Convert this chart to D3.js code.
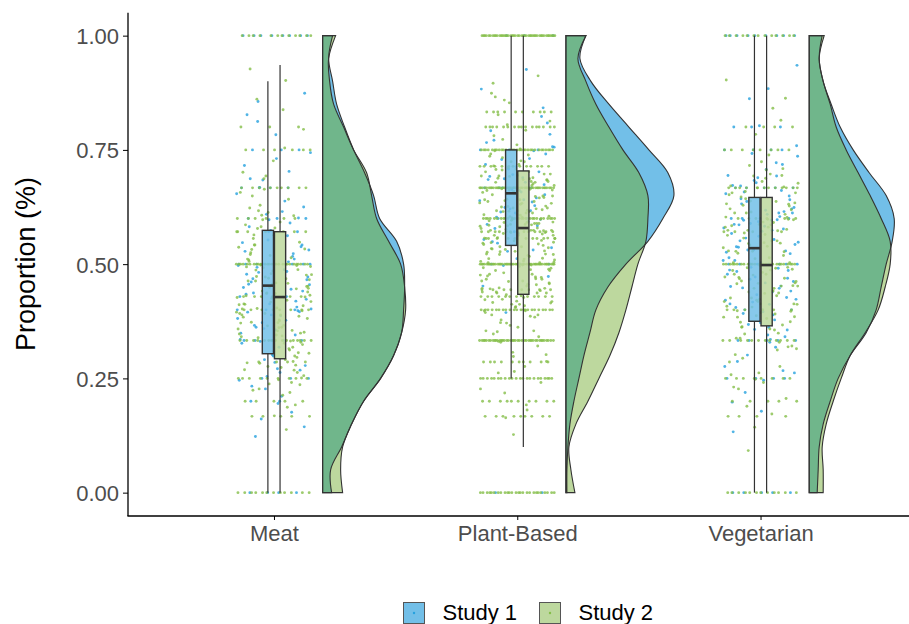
<!DOCTYPE html>
<html>
<head>
  <meta charset="utf-8">
  <title>raincloud</title>
  <script src="https://cdn.jsdelivr.net/npm/d3@7"></script>
  <style>
    body { margin: 0; background: #fff; overflow: hidden; }
    svg text { font-family: "Liberation Sans", Arial, sans-serif; }
    .tick text { fill: #4d4d4d; font-size: 22px; }
    .axis path, .axis line { stroke: #000; }
  </style>
</head>
<body>
<svg id="chart" width="909" height="624"></svg>
<script>
var categories = ["Meat", "Plant-Based", "Vegetarian"];
var studies = ["Study 1", "Study 2"];
var yTicks = [0, 0.25, 0.5, 0.75, 1];

// box stats per category: [lower whisker, q1, median, q3, upper whisker]
var boxStudy1 = [[0, 0.304, 0.453, 0.574, 0.900], [0.25, 0.541, 0.655, 0.750, 1], [0, 0.375, 0.535, 0.646, 1]];
var boxStudy2 = [[0, 0.293, 0.428, 0.571, 0.936], [0.10, 0.434, 0.579, 0.704, 1], [0, 0.365, 0.498, 0.646, 1]];

// half-violin density, read at the levels below (bottom to top)
var densityLevels = [0, 0.05, 0.1, 0.15, 0.2, 0.25, 0.3, 0.35, 0.4, 0.45, 0.5,
                     0.55, 0.6, 0.65, 0.7, 0.75, 0.8, 0.85, 0.9, 0.95, 1];
var densityMeat1 = [9, 8, 19, 29, 41, 58, 71, 79, 81, 82, 81, 74, 57, 51, 42, 31, 22, 14, 10, 6, 10];
var densityMeat2 = [20, 18, 20, 29, 41, 58, 71, 79, 83, 82, 78, 66, 54, 49, 44, 31, 21, 11, 7, 6, 13];
var densityPlant1 = [1, 1, 2, 4, 8, 13, 18, 24, 30, 42, 60, 82, 97, 108, 102, 83, 63, 43, 25, 14, 20];
var densityPlant2 = [9, 5, 3, 10, 22, 33, 44, 53, 60, 66, 72, 80, 82, 82, 73, 57, 43, 30, 20, 12, 20];
var densityVeg1 = [8, 9, 10, 14, 21, 29, 41, 57, 67, 72, 77, 83, 85, 77, 60, 44, 31, 22, 14, 10, 13];
var densityVeg2 = [14, 14, 13, 17, 24, 32, 41, 56, 69, 76, 81, 81, 72, 61, 49, 37, 27, 21, 14, 10, 15];

// repeated response values: [value, count]
var levelsMeat1 = [[1, 8], [0, 4], [0.5, 9], [0.75, 3], [0.667, 4], [0.6, 3], [0.4, 3], [0.333, 5], [0.25, 3], [0.2, 2], [0.571, 2], [0.429, 2]];
var levelsMeat2 = [[1, 12], [0, 12], [0.5, 26], [0.75, 6], [0.667, 9], [0.6, 6], [0.4, 8], [0.333, 15], [0.25, 9], [0.2, 5], [0.167, 5], [0.8, 3], [0.286, 4], [0.571, 5], [0.429, 6]];
var levelsPlant1 = [[1, 3], [0, 2], [0.667, 4], [0.5, 3], [0.75, 3], [0.6, 2]];
var levelsPlant2 = [[1, 45], [0, 26], [0.75, 30], [0.667, 42], [0.6, 26], [0.5, 46], [0.4, 22], [0.333, 40], [0.25, 22], [0.8, 16], [0.571, 12], [0.714, 12], [0.833, 10], [0.2, 10], [0.167, 9], [0.429, 12], [0.286, 10], [0.556, 9], [0.444, 8]];
var levelsVeg1 = [[1, 9], [0, 5], [0.5, 8], [0.667, 5], [0.75, 4], [0.6, 4], [0.333, 5], [0.25, 4], [0.4, 3], [0.8, 3]];
var levelsVeg2 = [[1, 13], [0, 12], [0.5, 26], [0.667, 12], [0.75, 8], [0.6, 6], [0.4, 6], [0.333, 12], [0.25, 8], [0.2, 5], [0.167, 4], [0.8, 4], [0.571, 4]];

// other responses, in thousandths
var scatterMeat1 = [812, 144, 356, 478, 523, 291, 402, 615, 437, 268, 389, 547, 703, 331, 466, 195, 582, 419, 254, 497, 638, 362, 441, 309, 528, 176, 684, 455, 387, 233, 601, 413, 349, 562, 482, 278, 731, 395, 511, 227, 654, 428, 366, 538, 302, 449, 590, 161, 472, 318, 687, 406, 553, 246, 377, 493, 625, 285, 434, 517, 359, 744, 211, 468, 396, 574, 327, 505, 668, 423, 271, 456, 345, 609, 381, 488, 123, 542, 299, 716, 445, 372, 531, 263, 461, 398, 597, 335, 484, 856, 874, 783, 827];
var scatterMeat2 = [452, 378, 521, 296, 613, 347, 468, 403, 256, 579, 431, 318, 687, 495, 362, 224, 548, 417, 389, 642, 283, 476, 354, 509, 192, 436, 571, 327, 463, 398, 726, 269, 514, 441, 305, 592, 373, 488, 238, 657, 421, 339, 533, 459, 284, 606, 392, 477, 213, 564, 349, 425, 701, 312, 498, 381, 247, 623, 446, 365, 537, 291, 473, 409, 168, 586, 355, 492, 432, 274, 649, 386, 519, 341, 458, 227, 571, 404, 463, 299, 693, 427, 366, 542, 251, 485, 413, 332, 607, 447, 376, 525, 263, 469, 392, 138, 578, 351, 436, 494, 287, 664, 418, 343, 556, 236, 479, 402, 315, 629, 451, 372, 506, 279, 437, 358, 754, 487, 324, 563, 412, 241, 597, 466, 389, 532, 306, 449, 371, 187, 617, 428, 345, 511, 268, 472, 395, 838, 542, 329, 456, 384, 219, 582, 439, 361, 927, 497, 276, 411, 902, 861, 795];
var scatterPlant1 = [652, 713, 587, 748, 624, 536, 689, 771, 598, 663, 452, 731, 614, 809, 567, 692, 645, 528, 756, 679, 603, 842, 571, 718, 636, 497, 784, 658, 549, 702, 621, 883, 593, 667, 741, 512, 685, 628, 394, 757, 641, 578, 823, 696, 554, 617, 729, 473, 661, 792, 584, 708, 639, 926, 546, 674, 612, 766, 531, 687];
var scatterPlant2 = [582, 437, 694, 512, 648, 371, 563, 724, 486, 619, 298, 557, 681, 423, 605, 752, 534, 389, 662, 476, 591, 827, 447, 708, 526, 354, 639, 574, 463, 781, 598, 412, 546, 687, 329, 623, 501, 736, 455, 584, 672, 398, 617, 541, 265, 702, 478, 567, 813, 431, 652, 589, 366, 693, 519, 448, 627, 761, 503, 384, 576, 649, 427, 714, 552, 307, 608, 488, 665, 536, 412, 741, 579, 462, 634, 192, 558, 697, 405, 522, 676, 859, 491, 603, 347, 571, 724, 439, 615, 527, 684, 362, 595, 468, 642, 548, 276, 707, 513, 659, 422, 586, 773, 457, 631, 389, 544, 692, 506, 618, 331, 569, 749, 474, 637, 532, 418, 685, 563, 241, 601, 492, 664, 378, 557, 718, 446, 589, 626, 509, 793, 437, 573, 654, 354, 612, 481, 697, 538, 416, 645, 587, 463, 739, 521, 302, 608, 556, 679, 433, 592, 511, 866, 467, 623, 398, 574, 706, 489, 641, 547, 321, 616, 583, 452, 688, 529, 407, 661, 574, 218, 633, 498, 715, 442, 596, 657, 517, 372, 684, 563, 478, 621, 805, 504, 587, 439, 649, 551, 394, 672, 615, 486, 726, 533, 341, 604, 578, 456, 693, 522, 419, 637, 589, 164, 662, 507, 748, 471, 598, 543, 386, 625, 681, 495, 574, 437, 711, 556, 612, 352, 646, 528, 467, 689, 591, 415, 633, 896, 503, 569, 447, 702, 538, 287, 617, 585, 472, 654, 521, 409, 679, 566, 127, 641, 498, 733, 459, 607, 874, 912, 853, 227, 181, 262];
var scatterVeg1 = [548, 412, 671, 356, 593, 487, 722, 301, 624, 459, 538, 267, 683, 421, 574, 392, 641, 503, 198, 612, 467, 759, 345, 586, 529, 433, 694, 378, 557, 612, 246, 508, 661, 417, 579, 335, 632, 486, 803, 451, 597, 368, 543, 707, 287, 615, 472, 526, 389, 658, 441, 572, 133, 604, 493, 736, 362, 551, 427, 689, 514, 318, 637, 462, 583, 405, 718, 531, 276, 596, 448, 649, 372, 567, 491, 862, 423, 609, 537, 341, 678, 478, 554, 219, 621, 396, 587, 452, 742, 508, 329, 643, 469, 561, 413, 693, 531, 262, 618, 484, 577, 357, 654, 439, 596, 523, 178, 672, 447, 589, 935, 884];
var scatterVeg2 = [487, 362, 598, 423, 671, 312, 545, 459, 706, 384, 527, 248, 632, 441, 568, 397, 681, 503, 276, 614, 452, 739, 338, 576, 418, 652, 491, 189, 597, 436, 528, 367, 693, 472, 551, 294, 627, 413, 584, 349, 716, 462, 539, 227, 609, 387, 563, 447, 659, 321, 592, 478, 815, 406, 536, 358, 647, 493, 262, 621, 431, 574, 385, 688, 457, 519, 143, 603, 442, 557, 374, 724, 486, 329, 638, 412, 581, 468, 206, 667, 529, 391, 612, 453, 547, 302, 694, 476, 418, 586, 363, 631, 497, 258, 573, 439, 656, 381, 524, 469, 784, 408, 591, 347, 619, 482, 231, 546, 426, 677, 514, 373, 602, 458, 286, 637, 492, 413, 565, 338, 709, 447, 581, 172, 629, 503, 394, 656, 437, 542, 315, 598, 471, 863, 421, 574, 356, 643, 489, 241, 612, 452, 528, 384, 697, 463, 319, 587, 426, 551, 92, 634, 478, 398, 669, 512, 903, 841];

var fills = ["#72bfe8", "#bdd89e"];
var overlapFill = "#70b68b";
var pointColors = ["#26a1de", "#84be48"];
var ink = "#333333";

var svg = d3.select("#chart");

var x = d3.scalePoint().domain(categories).range([128, 906.5]).padding(0.6);
var y = d3.scaleLinear().domain([-0.05, 1.05]).range([515.5, 12.8]);
var step = x.step();
var wScale = d3.scaleLinear().domain([0, 100]).range([0, step * 0.411]);

var groups = [
  {cat: 0, study: 0, box: boxStudy1[0], dens: densityMeat1, levels: levelsMeat1, scatter: scatterMeat1},
  {cat: 0, study: 1, box: boxStudy2[0], dens: densityMeat2, levels: levelsMeat2, scatter: scatterMeat2},
  {cat: 1, study: 0, box: boxStudy1[1], dens: densityPlant1, levels: levelsPlant1, scatter: scatterPlant1},
  {cat: 1, study: 1, box: boxStudy2[1], dens: densityPlant2, levels: levelsPlant2, scatter: scatterPlant2},
  {cat: 2, study: 0, box: boxStudy1[2], dens: densityVeg1, levels: levelsVeg1, scatter: scatterVeg1},
  {cat: 2, study: 1, box: boxStudy2[2], dens: densityVeg2, levels: levelsVeg2, scatter: scatterVeg2}
];

// expand each group into points; horizontal jitter from a golden-ratio sequence
groups.forEach(function(g, gi) {
  var vals = [];
  g.levels.forEach(function(l) { for (var k = 0; k < l[1]; k++) vals.push(l[0]); });
  g.scatter.forEach(function(v) { vals.push(v / 1000); });
  var cx = x(categories[g.cat]);
  g.points = vals.map(function(v, i) {
    var u = ((i + 1) * 0.6180339887 + gi * 0.37) % 1;
    return {x: cx + (u - 0.5) * 2 * 0.155 * step, y: y(v)};
  });
});

// jittered points (study 1 first, study 2 on top)
var ptLayer = svg.append("g");
[0, 1].forEach(function(s) {
  groups.filter(function(g) { return g.study === s; }).forEach(function(g) {
    ptLayer.selectAll(null).data(g.points).enter().append("circle")
      .attr("cx", function(d) { return d.x; })
      .attr("cy", function(d) { return d.y; })
      .attr("r", 1.45)
      .attr("fill", pointColors[s])
      .attr("fill-opacity", 0.8);
  });
});

// boxplots
var boxW = 0.046 * step, dodge = 0.025 * step;
var boxLayer = svg.append("g");
groups.forEach(function(g) {
  var cx = x(categories[g.cat]) + (g.study === 0 ? -dodge : dodge);
  var b = g.box;
  var bg = boxLayer.append("g");
  bg.append("line").attr("x1", cx).attr("x2", cx).attr("y1", y(b[4])).attr("y2", y(b[3]))
    .attr("stroke", ink).attr("stroke-width", 1.2);
  bg.append("line").attr("x1", cx).attr("x2", cx).attr("y1", y(b[1])).attr("y2", y(b[0]))
    .attr("stroke", ink).attr("stroke-width", 1.2);
  bg.append("rect").attr("x", cx - boxW / 2).attr("width", boxW)
    .attr("y", y(b[3])).attr("height", y(b[1]) - y(b[3]))
    .attr("fill", fills[g.study]).attr("fill-opacity", 0.85)
    .attr("stroke", ink).attr("stroke-width", 1.4);
  bg.append("line").attr("x1", cx - boxW / 2).attr("x2", cx + boxW / 2)
    .attr("y1", y(b[2])).attr("y2", y(b[2]))
    .attr("stroke", ink).attr("stroke-width", 2.6);
});

// half violins
var defs = svg.append("defs");
var violinLayer = svg.append("g");
categories.forEach(function(c, ci) {
  var base = x(c) + 0.2 * step;
  var area = function(dens) {
    return d3.area()
      .y(function(d, i) { return y(densityLevels[i]); })
      .x0(base)
      .x1(function(d) { return base + wScale(d); })
      .curve(d3.curveCatmullRom)(dens);
  };
  var g1 = groups.filter(function(g) { return g.cat === ci && g.study === 0; })[0];
  var g2 = groups.filter(function(g) { return g.cat === ci && g.study === 1; })[0];
  var p1 = area(g1.dens), p2 = area(g2.dens);
  defs.append("clipPath").attr("id", "clip" + ci).append("path").attr("d", p1);
  violinLayer.append("path").attr("d", p1).attr("fill", fills[0]);
  violinLayer.append("path").attr("d", p2).attr("fill", fills[1]);
  violinLayer.append("path").attr("d", p2).attr("fill", overlapFill).attr("clip-path", "url(#clip" + ci + ")");
  violinLayer.append("path").attr("d", p1).attr("fill", "none").attr("stroke", ink).attr("stroke-width", 1.1);
  violinLayer.append("path").attr("d", p2).attr("fill", "none").attr("stroke", ink).attr("stroke-width", 1.1);
});

// axes
var yAxis = svg.append("g").attr("class", "axis").attr("transform", "translate(128,0)")
  .call(d3.axisLeft(y).tickValues(yTicks).tickFormat(d3.format(".2f")).tickSize(5).tickSizeOuter(0).tickPadding(4));
yAxis.select(".domain").attr("d", "M0," + 12.8 + "V" + 516).attr("stroke-width", 1.3);
yAxis.selectAll(".tick line").attr("stroke", "#333");
yAxis.selectAll(".tick text").attr("dy", "0.36em");

var xAxis = svg.append("g").attr("class", "axis").attr("transform", "translate(0,516)")
  .call(d3.axisBottom(x).tickSize(4).tickSizeOuter(0).tickPadding(5));
xAxis.select(".domain").attr("d", "M127.4,0H909").attr("stroke-width", 1.3);
xAxis.selectAll(".tick line").attr("stroke", "#333");

svg.append("text")
  .attr("transform", "translate(35,264) rotate(-90)")
  .attr("text-anchor", "middle")
  .attr("font-size", 27)
  .attr("fill", "#000")
  .text("Proportion (%)");

// legend
var legendX = [403.5, 539.5];
var legend = svg.append("g");
studies.forEach(function(s, i) {
  legend.append("rect").attr("x", legendX[i]).attr("y", 602.5).attr("width", 21).attr("height", 21)
    .attr("fill", fills[i]).attr("stroke", "#555").attr("stroke-width", 1);
  legend.append("circle").attr("cx", legendX[i] + 10.5).attr("cy", 613).attr("r", 1.2).attr("fill", pointColors[i]);
  legend.append("text").attr("x", legendX[i] + 39).attr("y", 620)
    .attr("font-size", 22).attr("fill", "#000").text(s);
});
</script>
</body>
</html>
